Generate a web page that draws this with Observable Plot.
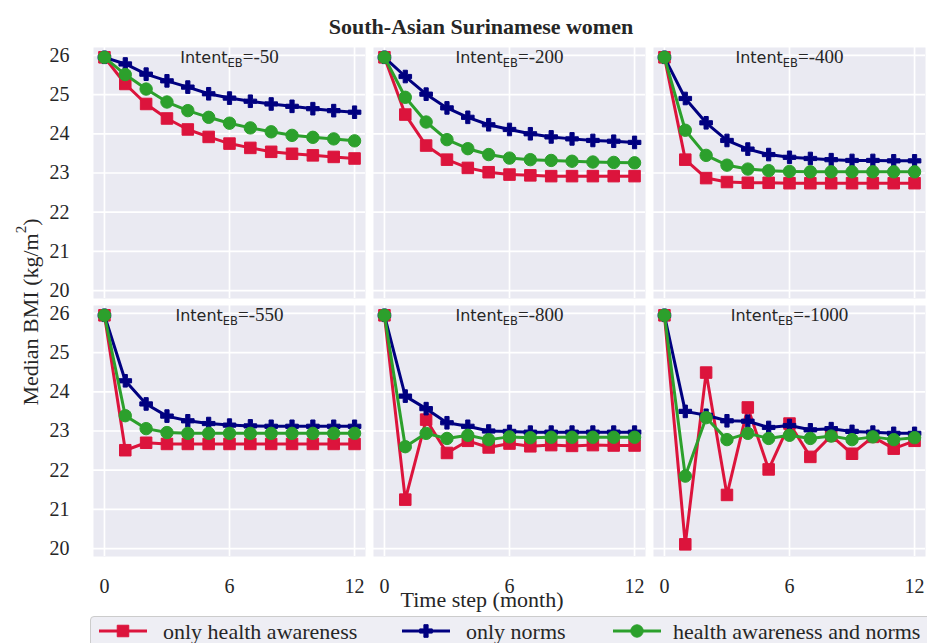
<!DOCTYPE html>
<html><head><meta charset="utf-8">
<script src="https://cdn.jsdelivr.net/npm/d3@7"></script>
<script src="https://cdn.jsdelivr.net/npm/@observablehq/plot@0.6"></script>
<style>
body{margin:0;background:#fff;}
#fig{position:relative;width:927px;height:643px;overflow:hidden;font-family:"Liberation Serif","Times New Roman",serif;color:#262626;}
#title{position:absolute;left:0;top:16px;width:962px;text-align:center;font-weight:bold;font-size:22px;line-height:22px;}
#chart{position:absolute;left:0;top:40px;}
#legend{position:absolute;left:90px;top:616px;width:840px;height:40px;background:#EEEEF4;border:1px solid #CCCCCC;border-radius:4px;}
#legend .lbl{position:absolute;top:4px;font-size:22px;line-height:22px;white-space:nowrap;}
#legend svg{position:absolute;top:4px;}
</style></head><body>
<div id="fig"><div id="title">South-Asian Surinamese women</div><div id="chart"></div><div id="legend"></div></div>
<script>
const steps = [0,1,2,3,4,5,6,7,8,9,10,11,12];
const intents = [-50,-200,-400,-550,-800,-1000];
const xTicks = [0,6,12];
const yTicks = [20,21,22,23,24,25,26];
const seriesNames = ["only health awareness","only norms","health awareness and norms"];
const seriesColors = ["#DC143C","#000080","#2CA02C"];

// only health awareness
const ha_50   = [25.95,25.27,24.76,24.39,24.11,23.92,23.75,23.64,23.54,23.49,23.45,23.41,23.37];
const ha_200  = [25.95,24.49,23.70,23.34,23.13,23.02,22.96,22.94,22.92,22.92,22.92,22.92,22.92];
const ha_400  = [25.95,23.34,22.87,22.77,22.75,22.75,22.74,22.74,22.74,22.74,22.74,22.74,22.74];
const ha_550  = [25.95,22.51,22.70,22.67,22.67,22.67,22.67,22.67,22.67,22.67,22.67,22.67,22.67];
const ha_800  = [25.95,21.25,23.29,22.44,22.75,22.58,22.68,22.61,22.64,22.62,22.64,22.63,22.63];
const ha_1000 = [25.95,20.11,24.49,21.37,23.60,22.02,23.19,22.34,22.88,22.42,22.85,22.55,22.75];
// only norms
const no_50   = [25.95,25.78,25.52,25.35,25.19,25.02,24.91,24.83,24.76,24.70,24.64,24.59,24.55];
const no_200  = [25.95,25.46,25.01,24.66,24.42,24.23,24.11,24.00,23.92,23.87,23.83,23.81,23.78];
const no_400  = [25.95,24.90,24.28,23.83,23.61,23.47,23.40,23.37,23.34,23.32,23.32,23.31,23.31];
const no_550  = [25.95,24.28,23.69,23.38,23.26,23.19,23.15,23.13,23.12,23.12,23.12,23.12,23.12];
const no_800  = [25.95,23.89,23.57,23.21,23.12,23.00,22.99,22.97,22.97,22.97,22.97,22.97,22.97];
const no_1000 = [25.95,23.50,23.40,23.26,23.25,23.09,23.14,23.03,23.06,22.99,22.97,22.94,22.94];
// health awareness and norms
const bo_50   = [25.95,25.51,25.14,24.81,24.59,24.42,24.27,24.15,24.05,23.96,23.91,23.87,23.82];
const bo_200  = [25.95,24.93,24.30,23.85,23.62,23.47,23.38,23.34,23.32,23.30,23.28,23.27,23.26];
const bo_400  = [25.95,24.09,23.45,23.20,23.10,23.06,23.04,23.03,23.03,23.03,23.03,23.03,23.03];
const bo_550  = [25.95,23.39,23.06,22.96,22.94,22.94,22.94,22.94,22.94,22.94,22.94,22.94,22.94];
const bo_800  = [25.95,22.60,22.94,22.81,22.89,22.78,22.85,22.83,22.84,22.84,22.84,22.84,22.84];
const bo_1000 = [25.95,21.85,23.34,22.78,22.94,22.81,22.89,22.81,22.87,22.78,22.85,22.78,22.83];

const seriesValues = [
  [ha_50,ha_200,ha_400,ha_550,ha_800,ha_1000],
  [no_50,no_200,no_400,no_550,no_800,no_1000],
  [bo_50,bo_200,bo_400,bo_550,bo_800,bo_1000]
];
const seriesSymbols = ["square","cross","circle"];
const seriesR = [6.5,5.3,6.2];

const table = [];
seriesNames.forEach((name, si) => {
  intents.forEach((intent, i) => {
    seriesValues[si][i].forEach((v, k) => table.push({series: name, intent, col: i % 3, row: Math.floor(i / 3), step: steps[k], value: v}));
  });
});
const panels = intents.map((intent, i) => ({intent, col: i % 3, row: Math.floor(i / 3)}));

const serif = "Liberation Serif";
const marks = [
  Plot.frame({fill: "#EAEAF2", stroke: null}),
  Plot.gridX({ticks: xTicks, stroke: "#fff", strokeOpacity: 1, strokeWidth: 1.7}),
  Plot.gridY({ticks: yTicks, stroke: "#fff", strokeOpacity: 1, strokeWidth: 1.7}),
  Plot.axisX({ticks: xTicks, tickFormat: d => String(d), tickSize: 0, tickPadding: 22, label: null, fontSize: 20, fontFamily: serif, fill: "#262626"}),
  Plot.axisY({ticks: yTicks, tickFormat: d => String(d), tickSize: 0, tickPadding: 24, label: null, fontSize: 20, fontFamily: serif, fill: "#262626"})
];
seriesNames.forEach((name, si) => {
  const d = table.filter(r => r.series === name);
  marks.push(Plot.line(d, {x: "step", y: "value", fx: "col", fy: "row", stroke: seriesColors[si], strokeWidth: 3}));
  marks.push(Plot.dot(d, {x: "step", y: "value", fx: "col", fy: "row", symbol: seriesSymbols[si], fill: seriesColors[si], stroke: seriesColors[si], strokeWidth: 1, r: seriesR[si]}));
});
marks.push(Plot.text(panels, {fx: "col", fy: "row", frameAnchor: "top", text: d => String(d.intent), lineAnchor: "top", dy: 4.6, fontSize: 16, fill: "#262626"}));

const chart = Plot.plot({
  width: 927, height: 572,
  marginLeft: 92, marginRight: 1.5, marginTop: 6, marginBottom: 56,
  style: {fontFamily: serif, fontSize: "20px", color: "#262626", background: "transparent", overflow: "visible"},
  x: {domain: [-0.525, 12.525]},
  y: {domain: [19.8, 26.2]},
  fx: {domain: [0, 1, 2], axis: null, paddingInner: 0.0268, paddingOuter: 0},
  fy: {domain: [0, 1], axis: null, paddingInner: 0.029, paddingOuter: 0},
  marks
});
document.getElementById("chart").appendChild(chart);

const svg = d3.select(chart);
svg.selectAll('g[aria-label$="tick label"] text').style("font-family", serif).style("font-size", "20px");
svg.selectAll('g[aria-label="text"] text').each(function() {
  const t = d3.select(this);
  const v = t.text();
  t.text(null);
  t.append("tspan").attr("font-family", "DejaVu Sans").text("Intent");
  t.append("tspan").attr("font-family", "DejaVu Sans").attr("font-size", "11.5px").attr("dy", "4").text("EB");
  t.append("tspan").attr("font-family", serif).attr("font-size", "19px").attr("dy", "-4").text("=" + v);
});
svg.append("text").attr("x", 482).attr("y", 567).attr("text-anchor", "middle")
  .attr("font-family", serif).attr("font-size", 22).attr("fill", "#262626").text("Time step (month)");
const yl = svg.append("text").attr("transform", "translate(30,272) rotate(-90)")
  .attr("text-anchor", "middle").attr("dominant-baseline", "central")
  .attr("font-family", serif).attr("font-size", 22).attr("fill", "#262626");
yl.append("tspan").text("Median BMI (kg/m");
yl.append("tspan").attr("font-size", 15).attr("dy", -9).text("2");
yl.append("tspan").attr("dy", 9).text(")");

// legend
const legend = d3.select("#legend");
const swatchX = [8, 311, 522];
const textX = [72, 375, 582];
seriesNames.forEach((name, si) => {
  const s = legend.append("svg").attr("width", 48).attr("height", 20).style("left", swatchX[si] + "px");
  s.append("line").attr("x1", 0).attr("x2", 48).attr("y1", 10).attr("y2", 10)
    .attr("stroke", seriesColors[si]).attr("stroke-width", 3);
  const sym = {square: d3.symbolSquare, cross: d3.symbolCross, circle: d3.symbolCircle}[seriesSymbols[si]];
  s.append("path").attr("transform", "translate(24,10)")
    .attr("d", d3.symbol(sym, Math.PI * seriesR[si] * seriesR[si])())
    .attr("fill", seriesColors[si]).attr("stroke", seriesColors[si]);
  legend.append("div").attr("class", "lbl").style("left", textX[si] + "px").text(name);
});
</script>
</body></html>
